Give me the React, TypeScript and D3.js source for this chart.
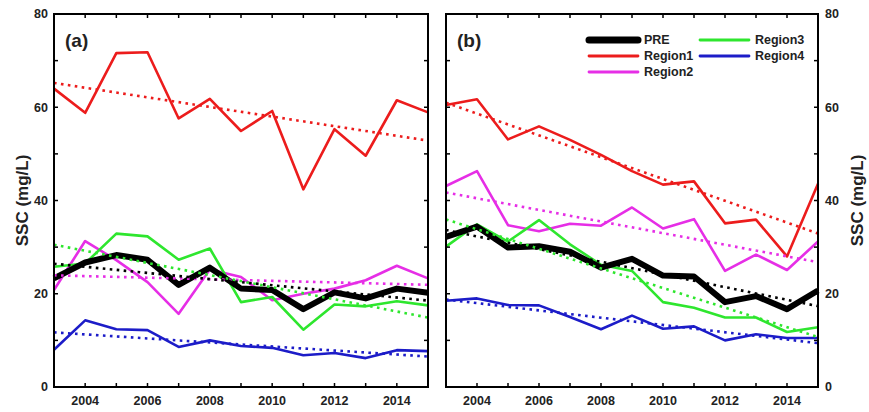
import React from 'react';
import * as d3 from 'd3';

const years = [2003, 2004, 2005, 2006, 2007, 2008, 2009, 2010, 2011, 2012, 2013, 2014, 2015];

// panel (a)
const preA = [23.3, 26.7, 28.3, 27.3, 21.9, 25.6, 21.1, 20.8, 16.7, 20.3, 19.0, 21.1, 20.2];
const region1A = [64.0, 58.8, 71.6, 71.8, 57.6, 61.8, 54.9, 59.2, 42.4, 55.3, 49.6, 61.5, 58.9];
const region2A = [20.8, 31.3, 27.2, 22.5, 15.7, 25.2, 23.6, 18.6, 20.0, 21.1, 22.9, 26.0, 23.3];
const region3A = [25.8, 26.5, 32.9, 32.3, 27.3, 29.7, 18.2, 19.3, 12.3, 17.7, 17.3, 18.4, 17.5];
const region4A = [8.0, 14.3, 12.4, 12.2, 8.6, 10.0, 8.8, 8.4, 6.8, 7.3, 6.2, 7.9, 7.7];

// panel (b)
const preB = [32.2, 34.4, 29.9, 30.2, 29.0, 25.6, 27.5, 23.9, 23.7, 18.2, 19.5, 16.7, 20.7];
const region1B = [60.5, 61.7, 53.1, 55.9, 53.0, 49.8, 46.3, 43.4, 44.1, 35.1, 35.9, 28.0, 43.6];
const region2B = [43.1, 46.3, 34.7, 33.4, 35.0, 34.6, 38.5, 34.0, 36.0, 24.9, 28.4, 25.1, 31.2];
const region3B = [30.1, 34.9, 31.2, 35.8, 30.6, 26.2, 24.9, 18.2, 17.0, 14.9, 14.9, 11.8, 12.8];
const region4B = [18.5, 19.0, 17.6, 17.5, 15.0, 12.4, 15.3, 12.5, 13.0, 10.0, 11.3, 10.5, 10.5];

const seriesNames = ['PRE', 'Region1', 'Region2', 'Region3', 'Region4'];
const seriesColors = ['#000000', '#ec1c1c', '#e62ee6', '#2ee62e', '#1c1cc8'];
const seriesWidths = [6, 2.6, 2.6, 2.6, 2.6];

const font = 'Liberation Sans, Arial, sans-serif';
const top = 14;
const bottom = 387;

// least squares fit for the dotted trend line
const fit = (vals: number[]) => {
  const mx = d3.mean(years)!;
  const my = d3.mean(vals)!;
  let num = 0;
  let den = 0;
  years.forEach((yr, i) => {
    num += (yr - mx) * (vals[i] - my);
    den += (yr - mx) * (yr - mx);
  });
  const b = num / den;
  return (yr: number) => my + b * (yr - mx);
};

type PanelProps = {
  left: number;
  right: number;
  side: 'left' | 'right';
  label: string;
  series: number[][];
};

const Panel = ({ left, right, side, label, series }: PanelProps) => {
  const x = d3.scaleLinear().domain([2003, 2015]).range([left, right]);
  const y = d3.scaleLinear().domain([0, 80]).range([bottom, top]);
  const line = d3.line<number>().x((d, i) => x(years[i])).y(d => y(d));

  // draw regions first, PRE last
  const order = [1, 2, 3, 4, 0];

  return (
    <g>
      {order.map(k => (
        <path key={'l' + k} d={line(series[k]) || ''} fill="none"
          stroke={seriesColors[k]} strokeWidth={seriesWidths[k]} strokeLinejoin="round" />
      ))}
      {order.map(k => {
        const f = fit(series[k]);
        return (
          <line key={'t' + k} x1={x(2003)} x2={x(2015)} y1={y(f(2003))} y2={y(f(2015))}
            stroke={seriesColors[k]} strokeWidth={2.6} strokeDasharray="2.6 4.4" />
        );
      })}
      <rect x={left} y={top} width={right - left} height={bottom - top}
        fill="none" stroke="#000" strokeWidth={2} />
      {y.ticks(8).map(v => (
        <g key={'y' + v}>
          <line x1={left} x2={left + 4} y1={y(v)} y2={y(v)} stroke="#000" strokeWidth={1.5} />
          <line x1={right - 4} x2={right} y1={y(v)} y2={y(v)} stroke="#000" strokeWidth={1.5} />
          {v % 20 === 0 && (
            <text x={side === 'left' ? left - 6 : right + 7} y={y(v)} dy="0.35em"
              textAnchor={side === 'left' ? 'end' : 'start'} fontSize={12.5} fontWeight="bold"
              fill="#222">{v}</text>
          )}
        </g>
      ))}
      {years.map(yr => (
        <g key={'x' + yr}>
          <line x1={x(yr)} x2={x(yr)} y1={bottom} y2={bottom - 4} stroke="#000" strokeWidth={1.5} />
          <line x1={x(yr)} x2={x(yr)} y1={top} y2={top + 4} stroke="#000" strokeWidth={1.5} />
          {yr % 2 === 0 && (
            <text x={x(yr)} y={bottom + 18} textAnchor="middle" fontSize={12.5}
              fontWeight="bold" fill="#222">{yr}</text>
          )}
        </g>
      ))}
      <text x={left + 11} y={47} fontSize={19} fontWeight="bold" fill="#222">{label}</text>
      <text transform={`translate(${side === 'left' ? 22 : 857},${(top + bottom) / 2}) rotate(-90)`}
        textAnchor="middle" dy="0.35em" fontSize={17} fontWeight="bold" fill="#222">SSC (mg/L)</text>
    </g>
  );
};

const Legend = () => {
  const cols = [0, 0, 0, 1, 1];
  const rows = [0, 1, 2, 0, 1];
  const colX = [589, 700];
  return (
    <g>
      {seriesNames.map((name, k) => {
        const lx = colX[cols[k]];
        const ly = 40 + rows[k] * 16;
        return (
          <g key={name}>
            <line x1={lx} x2={lx + 49} y1={ly} y2={ly} stroke={seriesColors[k]}
              strokeWidth={k === 0 ? 7 : 2.8} strokeLinecap="round" />
            <text x={lx + 55} y={ly} dy="0.35em" fontSize={12.5} fontWeight="bold"
              fill="#222">{name}</text>
          </g>
        );
      })}
    </g>
  );
};

export default function App() {
  return (
    <div style={{ position: 'absolute', left: 0, top: 0 }}>
      <svg width={869} height={412} style={{ display: 'block', fontFamily: font }}>
        <rect width={869} height={412} fill="#fff" />
        <Panel left={54} right={428} side="left" label="(a)"
          series={[preA, region1A, region2A, region3A, region4A]} />
        <Panel left={446} right={818} side="right" label="(b)"
          series={[preB, region1B, region2B, region3B, region4B]} />
        <Legend />
      </svg>
    </div>
  );
}
